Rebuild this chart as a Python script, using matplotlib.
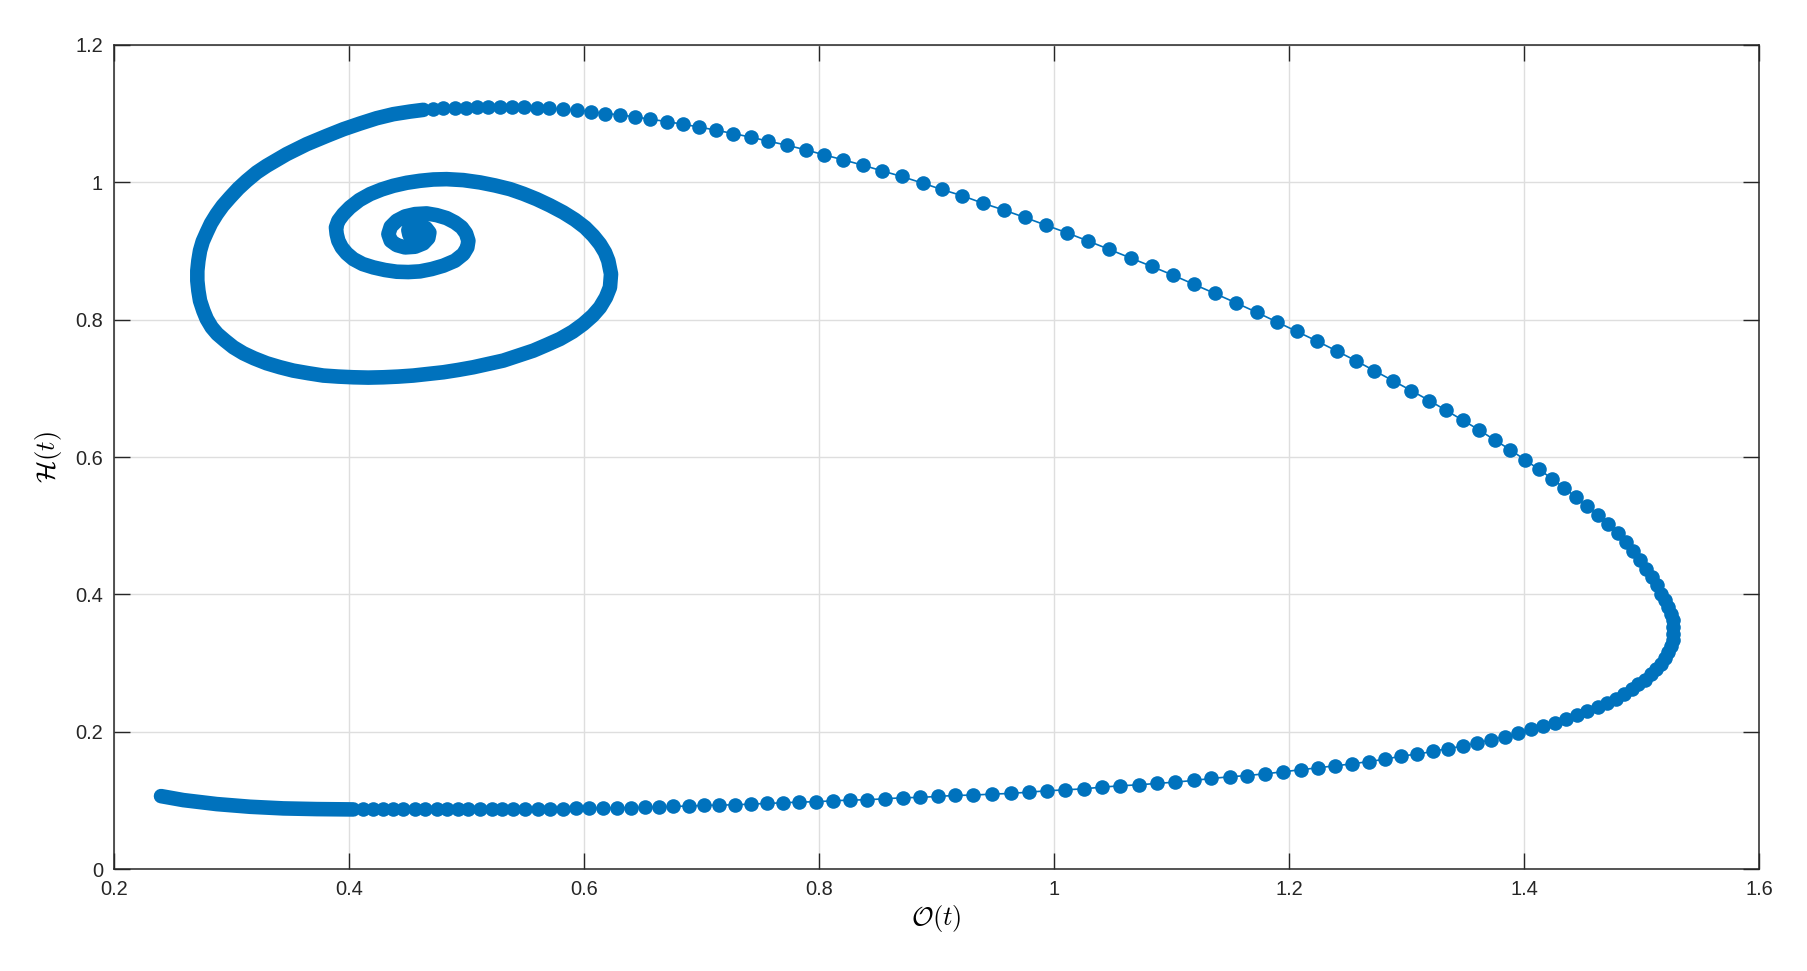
import matplotlib
matplotlib.use("Agg")
import matplotlib.pyplot as plt

plt.rcParams["font.family"] = ["Liberation Sans", "DejaVu Sans"]
plt.rcParams["mathtext.fontset"] = "cm"

# ---------------------------------------------------
# Data read off the phase portrait
# ---------------------------------------------------

# dense start of the trajectory (bottom left)
start_o = [0.2400, 0.2590, 0.2874, 0.3157, 0.3441, 0.3725, 0.4037]
start_h = [0.1062, 0.1004, 0.0946, 0.0907, 0.0883, 0.0873, 0.0868]

# separate sample points (bottom -> right turn -> top)
path_o = [
    0.4122, 0.4207, 0.4292, 0.4377, 0.4462, 0.4562, 0.4647, 0.4746, 0.4831, 0.4930, 0.5016, 0.5115, 0.5214,
    0.5299, 0.5399, 0.5498, 0.5606, 0.5711, 0.5818, 0.5932, 0.6045, 0.6165, 0.6278,
    0.6397, 0.6516, 0.6640, 0.6760, 0.6891, 0.7021, 0.7150, 0.7288, 0.7418, 0.7555,
    0.7697, 0.7833, 0.7974, 0.8122, 0.8264, 0.8411, 0.8562, 0.8712, 0.8860, 0.9010,
    0.9160, 0.9314, 0.9470,
    0.9631, 0.9787, 0.9940, 1.0096, 1.0252, 1.0409, 1.0565, 1.0721, 1.0879, 1.1033,
    1.1189, 1.1339, 1.1495, 1.1645, 1.1799, 1.1949, 1.2099, 1.2250, 1.2392, 1.2539,
    1.2678, 1.2820, 1.2953, 1.3087, 1.3223, 1.3350, 1.3478, 1.3603, 1.3722,
    1.3838, 1.3952, 1.4057, 1.4164, 1.4264, 1.4357, 1.4454, 1.4539, 1.4627, 1.4709,
    1.4780, 1.4851, 1.4916, 1.4973, 1.5029, 1.5078, 1.5123, 1.5163, 1.5200, 1.5228,
    1.5251, 1.5265, 1.5271, 1.5271, 1.5265, 1.5251, 1.5228, 1.5200, 1.5166, 1.5129,
    1.5087, 1.5038, 1.4987, 1.4931, 1.4865, 1.4797, 1.4718, 1.4633, 1.4539, 1.4443,
    1.4343, 1.4241, 1.4125, 1.4008, 1.3881, 1.3753, 1.3617, 1.3478, 1.3336, 1.3194,
    1.3041, 1.2882, 1.2726, 1.2567, 1.2406, 1.2236, 1.2065, 1.1901, 1.1725, 1.1546,
    1.1367, 1.1192, 1.1010, 1.0831, 1.0653, 1.0471, 1.0292, 1.0108, 0.9929, 0.9753,
    0.9575, 0.9393, 0.9220, 0.9044, 0.8882,
    0.8704, 0.8536, 0.8372, 0.8207, 0.8043, 0.7887, 0.7725, 0.7569, 0.7419, 0.7271,
    0.7123, 0.6976, 0.6840, 0.6704, 0.6562, 0.6434, 0.6306, 0.6179, 0.6060, 0.5938,
    0.5824, 0.5705, 0.5597, 0.5489, 0.5384, 0.5285, 0.5186, 0.5087, 0.4996, 0.4902,
    0.4803, 0.4718,
]
path_h = [
    0.0868, 0.0868, 0.0868, 0.0868, 0.0868, 0.0868, 0.0868, 0.0868, 0.0868, 0.0868, 0.0868, 0.0868, 0.0868,
    0.0868, 0.0868, 0.0868, 0.0873, 0.0873, 0.0878, 0.0883, 0.0883, 0.0887, 0.0892,
    0.0892, 0.0897, 0.0902, 0.0912, 0.0917, 0.0926, 0.0931, 0.0936, 0.0946, 0.0955,
    0.0965, 0.0975, 0.0980, 0.0994, 0.1004, 0.1009, 0.1023, 0.1038, 0.1043, 0.1057,
    0.1072, 0.1077, 0.1091,
    0.1101, 0.1120, 0.1139, 0.1154, 0.1168, 0.1193, 0.1212, 0.1227, 0.1246, 0.1266,
    0.1290, 0.1319, 0.1343, 0.1362, 0.1387, 0.1416, 0.1445, 0.1474, 0.1503, 0.1532,
    0.1566, 0.1600, 0.1644, 0.1673, 0.1712, 0.1755, 0.1789, 0.1838, 0.1886,
    0.1930, 0.1983, 0.2032, 0.2080, 0.2133, 0.2182, 0.2245, 0.2298, 0.2361, 0.2424,
    0.2483, 0.2555, 0.2623, 0.2691, 0.2759, 0.2836, 0.2914, 0.2992, 0.3074, 0.3162,
    0.3249, 0.3341, 0.3428, 0.3525, 0.3622, 0.3719, 0.3816, 0.3913, 0.4010, 0.4131,
    0.4252, 0.4373, 0.4495, 0.4630, 0.4756, 0.4887, 0.5023, 0.5154, 0.5280, 0.5416,
    0.5547, 0.5682, 0.5823, 0.5959, 0.6109, 0.6245, 0.6395, 0.6536, 0.6681, 0.6822,
    0.6967, 0.7113, 0.7258, 0.7404, 0.7544, 0.7690, 0.7830, 0.7966, 0.8107, 0.8247,
    0.8383, 0.8514, 0.8650, 0.8776, 0.8897, 0.9023, 0.9144, 0.9266, 0.9377, 0.9488,
    0.9595, 0.9697, 0.9804, 0.9896, 0.9988,
    1.0085, 1.0167, 1.0250, 1.0327, 1.0400, 1.0473, 1.0541, 1.0599, 1.0657, 1.0710,
    1.0759, 1.0807, 1.0846, 1.0885, 1.0919, 1.0953, 1.0982, 1.1001, 1.1030, 1.1050,
    1.1064, 1.1079, 1.1088, 1.1098, 1.1098, 1.1103, 1.1103, 1.1098, 1.1088, 1.1079,
    1.1084, 1.1069,
]

# dense spiral towards the equilibrium
spiral_o = [
    0.4633, 0.4519, 0.4377, 0.4235, 0.4094, 0.3952, 0.3810, 0.3640, 0.3469, 0.3299,
    0.3214, 0.3129, 0.3058, 0.2987, 0.2925, 0.2874, 0.2825, 0.2789, 0.2755, 0.2732,
    0.2718, 0.2709, 0.2709, 0.2718, 0.2732, 0.2760, 0.2789, 0.2831, 0.2879, 0.2945,
    0.3016, 0.3101, 0.3191, 0.3299, 0.3413, 0.3526, 0.3654, 0.3781, 0.3909, 0.4037,
    0.4164, 0.4292, 0.4420, 0.4547, 0.4675, 0.4803, 0.4930, 0.5058, 0.5186, 0.5313,
    0.5441, 0.5569, 0.5682, 0.5796, 0.5904, 0.5994, 0.6074, 0.6136, 0.6187, 0.6221,
    0.6230, 0.6207, 0.6179, 0.6136, 0.6079, 0.6009, 0.5923, 0.5824, 0.5711, 0.5597,
    0.5484, 0.5370, 0.5243, 0.5115, 0.4973, 0.4831, 0.4718, 0.4604, 0.4491, 0.4377,
    0.4278, 0.4179, 0.4088, 0.4008, 0.3952, 0.3909, 0.3889, 0.3895, 0.3909, 0.3938,
    0.3980, 0.4037, 0.4116, 0.4207, 0.4306, 0.4406, 0.4505, 0.4604, 0.4704, 0.4803,
    0.4902, 0.4973, 0.5007, 0.5016, 0.4996, 0.4959, 0.4902, 0.4831, 0.4746, 0.4661,
    0.4562, 0.4477, 0.4406, 0.4355, 0.4335, 0.4355, 0.4406, 0.4477, 0.4562, 0.4633,
    0.4675, 0.4684, 0.4655, 0.4604, 0.4548, 0.4505, 0.4514, 0.4562,
]
spiral_h = [
    1.1055, 1.1030, 1.0992, 1.0933, 1.0856, 1.0773, 1.0676, 1.0555, 1.0410, 1.0240,
    1.0143, 1.0022, 0.9910, 0.9779, 0.9658, 0.9537, 0.9401, 0.9270, 0.9139, 0.9004,
    0.8858, 0.8713, 0.8567, 0.8422, 0.8276, 0.8131, 0.8010, 0.7889, 0.7792, 0.7695,
    0.7598, 0.7510, 0.7438, 0.7365, 0.7307, 0.7258, 0.7220, 0.7186, 0.7171, 0.7161,
    0.7156, 0.7161, 0.7171, 0.7186, 0.7210, 0.7234, 0.7268, 0.7307, 0.7355, 0.7404,
    0.7476, 0.7549, 0.7632, 0.7719, 0.7825, 0.7937, 0.8058, 0.8179, 0.8325, 0.8470,
    0.8664, 0.8858, 0.8979, 0.9101, 0.9222, 0.9343, 0.9455, 0.9561, 0.9663, 0.9755,
    0.9833, 0.9901, 0.9954, 0.9998, 1.0032, 1.0046, 1.0041, 1.0022, 0.9993, 0.9949,
    0.9896, 0.9828, 0.9741, 0.9634, 0.9537, 0.9440, 0.9343, 0.9246, 0.9149, 0.9052,
    0.8965, 0.8882, 0.8810, 0.8761, 0.8723, 0.8698, 0.8693, 0.8703, 0.8737, 0.8786,
    0.8858, 0.8955, 0.9052, 0.9149, 0.9256, 0.9343, 0.9416, 0.9479, 0.9522, 0.9547,
    0.9537, 0.9503, 0.9440, 0.9353, 0.9246, 0.9149, 0.9086, 0.9052, 0.9062, 0.9111,
    0.9188, 0.9270, 0.9333, 0.9367, 0.9358, 0.9304, 0.9236, 0.9227,
]

x_ticks = [0.2, 0.4, 0.6, 0.8, 1.0, 1.2, 1.4, 1.6]
x_tick_labels = ["0.2", "0.4", "0.6", "0.8", "1", "1.2", "1.4", "1.6"]
y_ticks = [0, 0.2, 0.4, 0.6, 0.8, 1.0, 1.2]
y_tick_labels = ["0", "0.2", "0.4", "0.6", "0.8", "1", "1.2"]

blue = "#0072BD"

# ---------------------------------------------------
# Plot
# ---------------------------------------------------

fig = plt.figure(figsize=(18.07, 9.71), dpi=100)
ax = fig.add_axes([0.0631, 0.1050, 0.9103, 0.8487])

# dense parts: samples overlap into a solid band
ax.plot(start_o, start_h, color=blue, linewidth=10.5,
        solid_capstyle="round", solid_joinstyle="round", zorder=3)
ax.plot(spiral_o, spiral_h, color=blue, linewidth=10.5,
        solid_capstyle="round", solid_joinstyle="round", zorder=3)

# separated samples
ax.plot([start_o[-1]] + path_o + [spiral_o[0]],
        [start_h[-1]] + path_h + [spiral_h[0]],
        color=blue, linewidth=1.2, zorder=3)
ax.plot(path_o, path_h, linestyle="none", marker="o", markersize=10.5,
        markeredgewidth=0, color=blue, zorder=4)

ax.set_xlim(0.2, 1.6)
ax.set_ylim(0, 1.2)
ax.set_xticks(x_ticks)
ax.set_xticklabels(x_tick_labels)
ax.set_yticks(y_ticks)
ax.set_yticklabels(y_tick_labels)

ax.grid(True, color="#dedede", linewidth=1.0)
ax.set_axisbelow(True)

ax.tick_params(direction="in", length=11.5, width=1.0, colors="#262626",
               labelsize=14.4, top=True, right=True, pad=8)
for spine in ax.spines.values():
    spine.set_color("#262626")
    spine.set_linewidth(1.1)

ax.set_xlabel(r"$\mathcal{O}(t)$", fontsize=19, labelpad=3)
ax.set_ylabel(r"$\mathcal{H}(t)$", fontsize=19, labelpad=8)

fig.savefig("out.png", dpi=100)
